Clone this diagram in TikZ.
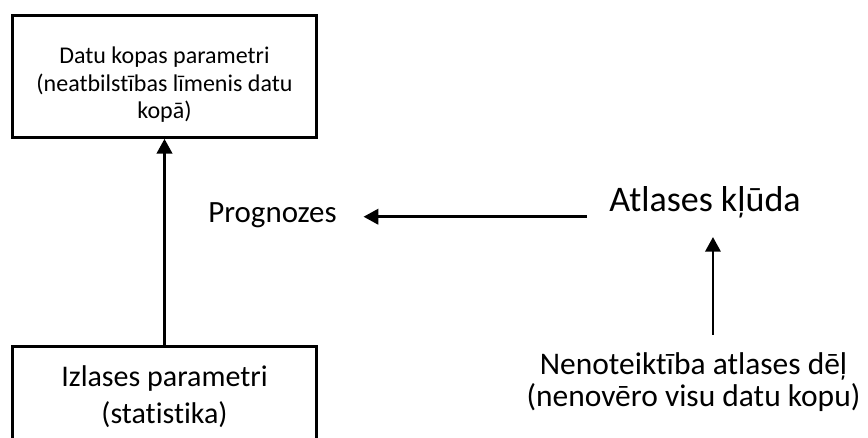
\documentclass[tikz,border=0pt]{standalone}
\usepackage{fontspec}
\setmainfont{Carlito}[Ligatures=NoCommon]
\usetikzlibrary{arrows.meta}
\usetikzlibrary{positioning}

\begin{document}
\begin{tikzpicture}[x=0.75pt, y=-0.75pt,
    box/.style={draw, line width=2pt, minimum width=228pt, align=center, inner sep=0pt},
    txt/.style={inner sep=0pt, align=center},
    arr/.style={line width=1.9pt, -{Triangle[length=11pt, width=11.5pt]}}]
    \clip (0, 0) rectangle (868, 437);

    \node [box, minimum height=91.5pt, font=\fontsize{18}{20.5}\selectfont] (params) at (164.5, 76.5) {\rule{0pt}{25pt}Datu kopas parametri\\(neatbilstības līmenis datu\\kopā)};

    \node [box, minimum height=75.3pt, font=\fontsize{22.5}{27.5}\selectfont] (sample) at (164.5, 396.7) {Izlases parametri\\(statistika)};

    \node [txt, anchor=base, font=\fontsize{23.2}{27}\selectfont] (prog) at (272.5, 222.3) {Prognozes};

    \node [txt, anchor=base, font=\fontsize{27}{32}\selectfont] (kluda) at (705, 211.7) {Atlases kļūda};

    \node [txt, font=\fontsize{23.6}{24.5}\selectfont] (noteikt) at (693.5, 382) {Nenoteiktība atlases dēļ\\(nenovēro visu datu kopu)};

    \draw [arr] (sample.north) -- (params.south);

    \draw [arr, shorten <=16.5pt, shorten >=20pt] ([yshift=1.8pt]kluda.west |- prog.mid) -- ([yshift=1.8pt]prog.mid east);

    \draw [arr, shorten <=13pt, shorten >=19pt] ([xshift=14.6pt]noteikt.north) -- ([xshift=14.6pt]noteikt.north |- kluda.base);
\end{tikzpicture}
\end{document}
